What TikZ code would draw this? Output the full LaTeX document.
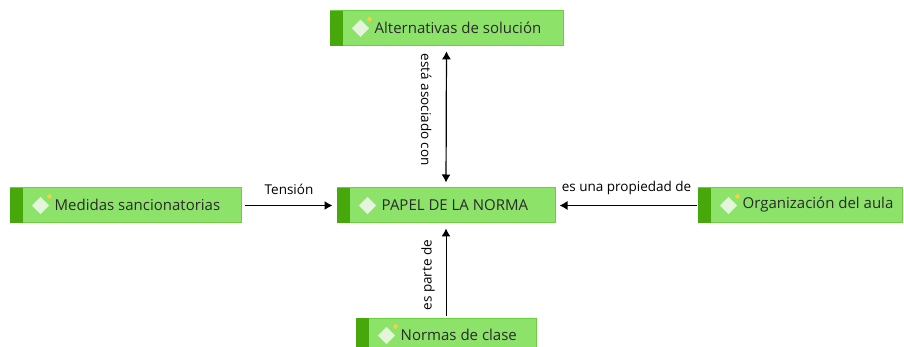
\documentclass[tikz,border=0pt]{standalone}
\usepackage{fontspec}
\setmainfont{Open Sans}
\usetikzlibrary{arrows.meta,calc}
\definecolor{boxfill}{HTML}{8DE36A}
\definecolor{boxline}{HTML}{6BCF3F}
\definecolor{strip}{HTML}{46A80A}
\definecolor{txt}{HTML}{2A2A2A}
\definecolor{dot}{HTML}{F5D142}
\definecolor{diafill}{HTML}{E4F5DC}
\tikzset{
  box/.style={draw=boxline, line width=1pt, fill=boxfill, rectangle, inner sep=0pt, minimum height=35pt},
  boxtext/.style={anchor=west, text=txt, inner sep=0pt, font=\fontsize{15}{17}\selectfont},
  lbl/.style={text=black, inner sep=0pt, font=\fontsize{13.5}{15}\selectfont},
  conn/.style={black, line width=1.2pt, -{Latex[length=8pt,width=9pt]}},
  connboth/.style={black, line width=1.2pt, {Latex[length=8pt,width=9pt]}-{Latex[length=8pt,width=9pt]}},
}
\newcommand{\conceptbox}[6]{% name, cx, cy, width, text, dot?
  \node[box, minimum width=#4pt] (#1) at (#2,#3) {};
  \fill[strip] ($(#1.north west)+(0.5,0.5)$) rectangle ($(#1.south west)+(13.5,-0.5)$);
  \coordinate (#1-d) at ($(#1.west)+(31,0)$);
  \draw[fill=diafill, draw=white!80!boxline, line width=0.8pt]
    ($(#1-d)+(-8,0)$) -- ($(#1-d)+(0,8)$) -- ($(#1-d)+(8,0)$) -- ($(#1-d)+(0,-8)$) -- cycle;
  \ifx#61\fill[dot] ($(#1-d)+(9,-9)$) circle (2.3);\fi
  \node[boxtext] (#1-t) at ($(#1.west)+(45,-0.5)$) {#5};
}
\begin{document}
\begin{tikzpicture}[x=1pt,y=-1pt]
\useasboundingbox (0,0) rectangle (904,347);
\conceptbox{alt}{446.5}{28.3}{233}{Alternativas de solución}{1}
\conceptbox{med}{125.5}{205.5}{231}{Medidas sancionatorias}{1}
\conceptbox{pap}{446}{205.5}{218}{PAPEL DE LA NORMA}{0}
\conceptbox{org}{800}{205.5}{204}{Organización del aula}{1}
\conceptbox{nor}{446}{335.5}{180}{Normas de clase}{1}
\draw[connboth, shorten <=5pt, shorten >=5pt] (alt.south) -- (pap.north);
\node[lbl, rotate=-90] (l1) at ($(alt.south)!0.45!(pap.north)+(-20,0)$) {está asociado con};
\draw[conn, shorten <=3pt, shorten >=4pt] (med.east) -- (pap.west)
  node[lbl, midway, anchor=south, yshift=10pt] (l2) {Tensión};
\draw[conn, shorten <=1pt, shorten >=4pt] (org.west) -- (pap.east)
  node[lbl, midway, anchor=south, yshift=10pt] (l3) {es una propiedad de};
\draw[conn, line width=1pt, shorten <=2pt, shorten >=5pt] (nor.north) -- (pap.south);
\node[lbl, rotate=90] (l4) at ($(pap.south)!0.55!(nor.north)+(-18,0)$) {es parte de};
\end{tikzpicture}
\end{document}
